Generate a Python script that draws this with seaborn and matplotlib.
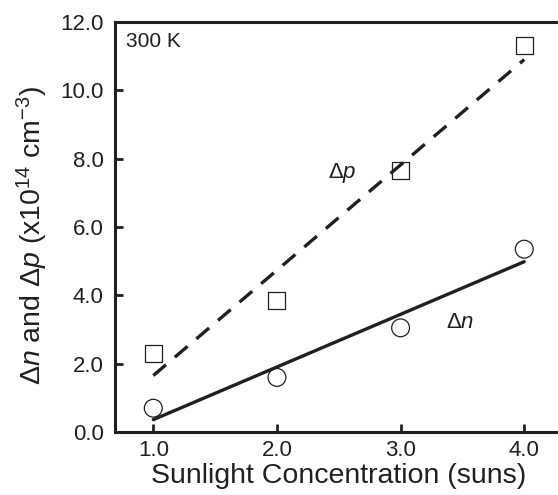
import numpy as np
import pandas as pd
import matplotlib
matplotlib.use("Agg")
import matplotlib.pyplot as plt
import seaborn as sns

# Data
suns = [1.0, 2.0, 3.0, 4.0]
delta_p = [2.3, 3.85, 7.65, 11.3]
delta_n = [0.7, 1.6, 3.05, 5.35]
x_ticks = [1.0, 2.0, 3.0, 4.0]
y_ticks = [0.0, 2.0, 4.0, 6.0, 8.0, 10.0, 12.0]

INK = "#231f20"

sns.set_style("ticks")
plt.rcParams["font.family"] = ["Liberation Sans", "DejaVu Sans"]
plt.rcParams["mathtext.fontset"] = "custom"
plt.rcParams["mathtext.rm"] = "Liberation Sans"
plt.rcParams["mathtext.it"] = "Liberation Sans:italic"

df = pd.DataFrame({"suns": suns, "dp": delta_p, "dn": delta_n})

fig = plt.figure(figsize=(5.58, 4.95), dpi=100)
ax = fig.add_axes([0.206, 0.127, 0.80, 0.829])

# linear fits
sns.regplot(data=df, x="suns", y="dp", ax=ax, scatter=False, ci=None, truncate=True,
            line_kws=dict(color=INK, lw=2.4, dashes=(5, 3.5)))
sns.regplot(data=df, x="suns", y="dn", ax=ax, scatter=False, ci=None, truncate=True,
            line_kws=dict(color=INK, lw=2.4))

# open markers
sns.scatterplot(data=df, x="suns", y="dp", ax=ax, marker="s", s=150,
                facecolor="none", edgecolor=INK, linewidth=0.9, zorder=3)
sns.scatterplot(data=df, x="suns", y="dn", ax=ax, marker="o", s=165,
                facecolor="none", edgecolor=INK, linewidth=0.9, zorder=3)

ax.set_xlim(0.69, 4.3)
ax.set_ylim(0, 12)
ax.set_xticks(x_ticks)
ax.set_yticks(y_ticks)
ax.set_xticklabels([f"{t:.1f}" for t in x_ticks])
ax.set_yticklabels([f"{t:.1f}" for t in y_ticks])
ax.tick_params(direction="in", length=6, width=2, colors=INK, labelsize=16)
ax.tick_params(axis="y", pad=8)
ax.tick_params(axis="x", pad=6)

for side in ["left", "bottom", "top"]:
    ax.spines[side].set_linewidth(2.2)
    ax.spines[side].set_color(INK)
ax.spines["right"].set_visible(False)

ax.set_xlabel("Sunlight Concentration (suns)", fontsize=20.5, color=INK, labelpad=1)
ax.set_ylabel("$\\it{Δn}$ and $\\it{Δp}$ (x10$^{14}$ cm$^{-3}$)",
              fontsize=20.5, color=INK)
ax.yaxis.set_label_coords(-0.145, 0.48)

ax.text(0.025, 0.975, "300 K", transform=ax.transAxes, fontsize=15, color=INK,
        ha="left", va="top")
ax.text(2.41, 7.57, r"$\Delta\it{p}$", fontsize=16, color=INK, ha="left", va="center")
ax.text(3.37, 3.22, r"$\Delta\it{n}$", fontsize=16, color=INK, ha="left", va="center")

fig.savefig("out.png", dpi=100)
